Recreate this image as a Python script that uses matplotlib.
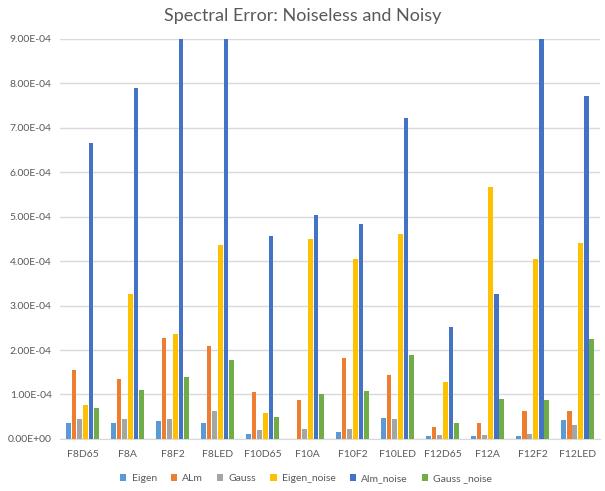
import numpy as np
import matplotlib
matplotlib.use("Agg")
import matplotlib.pyplot as plt
from matplotlib.ticker import FuncFormatter, MultipleLocator

plt.rcParams['font.family'] = ['Lato', 'DejaVu Sans']

categories = ["F8D65", "F8A", "F8F2", "F8LED", "F10D65", "F10A",
              "F10F2", "F10LED", "F12D65", "F12A", "F12F2", "F12LED"]

eigen       = [3.5e-5, 3.7e-5, 4.1e-5, 3.5e-5, 1.1e-5, 0.0,
               1.5e-5, 4.8e-5, 0.6e-5, 0.6e-5, 0.6e-5, 4.3e-5]
alm         = [1.56e-4, 1.34e-4, 2.27e-4, 2.10e-4, 1.05e-4, 0.88e-4,
               1.81e-4, 1.44e-4, 0.27e-4, 0.35e-4, 0.62e-4, 0.63e-4]
gauss       = [4.4e-5, 4.6e-5, 4.6e-5, 6.3e-5, 2.0e-5, 2.3e-5,
               2.3e-5, 4.6e-5, 1.0e-5, 1.0e-5, 1.1e-5, 3.2e-5]
eigen_noise = [0.77e-4, 3.26e-4, 2.37e-4, 4.37e-4, 0.59e-4, 4.50e-4,
               4.04e-4, 4.62e-4, 1.27e-4, 5.66e-4, 4.04e-4, 4.41e-4]
alm_noise   = [6.65e-4, 7.89e-4, 1.10e-3, 1.10e-3, 4.56e-4, 5.04e-4,
               4.83e-4, 7.21e-4, 2.51e-4, 3.26e-4, 1.10e-3, 7.72e-4]
gauss_noise = [0.70e-4, 1.09e-4, 1.40e-4, 1.77e-4, 0.50e-4, 1.02e-4,
               1.08e-4, 1.88e-4, 0.37e-4, 0.89e-4, 0.88e-4, 2.25e-4]

series_names = ["Eigen", "ALm", "Gauss", "Eigen_noise", "Alm_noise", "Gauss _noise"]
series_vals = [eigen, alm, gauss, eigen_noise, alm_noise, gauss_noise]
colors = ["#5B9BD5", "#ED7D31", "#A5A5A5", "#FFC000", "#4472C4", "#70AD47"]

fig = plt.figure(figsize=(6.05, 4.91), dpi=100)
ax = fig.add_axes([0.099, 0.106, 0.893, 0.815])

x = np.arange(len(categories))
step = 0.126
width = 0.106
for i, (name, vals, c) in enumerate(zip(series_names, series_vals, colors)):
    offs = (i - 2.5) * step
    ax.bar(x + offs, vals, width=width, color=c, label=name, zorder=3)

ax.set_xlim(-0.5, len(categories) - 0.5)
ax.set_ylim(0, 9e-4)
ax.yaxis.set_major_locator(MultipleLocator(1e-4))
ax.yaxis.set_major_formatter(FuncFormatter(lambda v, p: f"{v:.2E}"))
ax.set_xticks(x)
ax.set_xticklabels(categories)
ax.tick_params(axis='both', length=0, labelsize=7.5, colors="#595959")
ax.tick_params(axis='y', pad=6)
ax.tick_params(axis='x', pad=8)
ax.grid(axis='y', color="#d9d9d9", linewidth=1, zorder=0)
for s in ["top", "right", "left"]:
    ax.spines[s].set_visible(False)
ax.spines["bottom"].set_color("#d9d9d9")

fig.text(0.5, 0.968, "Spectral Error: Noiseless and Noisy", ha="center", va="center",
         fontsize=13, color="#595959")

leg = fig.legend(loc="center", bbox_to_anchor=(0.506, 0.025), ncol=6, frameon=False,
                 fontsize=7.5, handlelength=0.6, handleheight=0.6, columnspacing=1.35,
                 handletextpad=0.5)
for t in leg.get_texts():
    t.set_color("#595959")

fig.savefig("out.png", dpi=100)
